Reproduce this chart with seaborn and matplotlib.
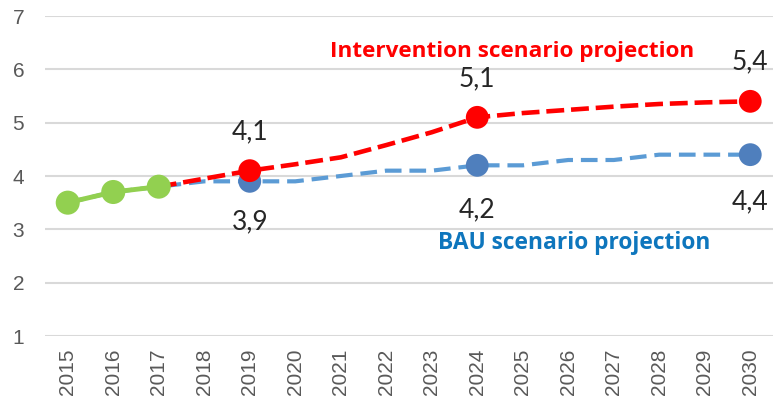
import numpy as np
import pandas as pd
import matplotlib
matplotlib.use("Agg")
import matplotlib.pyplot as plt
import seaborn as sns

# Chart values
years = list(range(2015, 2031))
bau = [3.5, 3.7, 3.8, 3.9, 3.9, 3.9, 4.0, 4.1, 4.1, 4.2, 4.2, 4.3, 4.3, 4.4, 4.4, 4.4]
intervention_years = list(range(2017, 2031))
intervention = [3.8, 3.95, 4.1, 4.22, 4.35, 4.58, 4.82, 5.1, 5.18, 5.24, 5.3, 5.35, 5.38, 5.4]
hist_years = [2015, 2016, 2017]
hist = [3.5, 3.7, 3.8]
marked_years = [2019, 2024, 2030]
label_bau = ["3,9", "4,2", "4,4"]
label_int = ["4,1", "5,1", "5,4"]

df_bau = pd.DataFrame({"year": years, "value": bau})
df_int = pd.DataFrame({"year": intervention_years, "value": intervention})
df_hist = pd.DataFrame({"year": hist_years, "value": hist})
mk_bau = df_bau[df_bau["year"].isin(marked_years)]
mk_int = df_int[df_int["year"].isin(marked_years)]

sns.set_style("white")
plt.rcParams["font.family"] = ["Liberation Sans", "DejaVu Sans"]

fig = plt.figure(figsize=(7.73, 4.08), dpi=100)
ax = fig.add_axes([45 / 773, (408 - 336) / 408, (773 - 45) / 773, 320 / 408])

blue_line = "#5B9BD5"
blue_mark = "#4F7FBD"
red = "#FF0000"
green = "#92D050"

# BAU projection
sns.lineplot(data=df_bau, x="year", y="value", ax=ax, color=blue_line, lw=3.0, zorder=2)
ax.lines[-1].set_dashes((4.0, 1.9))
sns.scatterplot(data=mk_bau, x="year", y="value", ax=ax, color=blue_mark, s=270,
                edgecolor="none", zorder=3)

# intervention projection
sns.lineplot(data=df_int, x="year", y="value", ax=ax, color=red, lw=3.3, zorder=4)
ax.lines[-1].set_dashes((3.9, 1.5))
sns.scatterplot(data=mk_int, x="year", y="value", ax=ax, color=red, s=270,
                edgecolor="none", zorder=5)

# historical
sns.lineplot(data=df_hist, x="year", y="value", ax=ax, color=green, lw=3.5, zorder=6)
sns.scatterplot(data=df_hist, x="year", y="value", ax=ax, color=green, s=300,
                edgecolor="none", zorder=7)

# data labels
int_offsets = [39, 39, 40]
bau_offsets = [-40, -44, -47]
for (_, r), lab, off in zip(mk_int.iterrows(), label_int, int_offsets):
    ax.annotate(lab, (r["year"], r["value"]), xytext=(0, off), textcoords="offset pixels",
                ha="center", va="center", fontsize=19, color="#262626", family="Lato")
for (_, r), lab, off in zip(mk_bau.iterrows(), label_bau, bau_offsets):
    ax.annotate(lab, (r["year"], r["value"]), xytext=(0, off), textcoords="offset pixels",
                ha="center", va="center", fontsize=19, color="#262626", family="Lato")

ax.text(2020.76, 6.33, "Intervention scenario projection", color=red, fontsize=16.2,
        fontweight="bold", family="Open Sans", ha="left", va="center")
ax.text(2023.13, 2.74, "BAU scenario projection", color="#0E76BD", fontsize=16.4,
        fontweight="bold", family="Open Sans", ha="left", va="center")

ax.set_xlim(2014.5, 2030.5)
ax.set_ylim(1, 7)
ax.set_xticks(years)
ax.set_xticklabels([str(y) for y in years], rotation=90)
ax.set_yticks(range(1, 8))
ax.set_xlabel("")
ax.set_ylabel("")
ax.grid(axis="y", color="#D9D9D9", lw=1.5)
ax.set_axisbelow(True)
for s in ax.spines.values():
    s.set_visible(False)
ax.tick_params(axis="both", length=0, labelsize=15, labelcolor="#595959")
ax.tick_params(axis="y", pad=15)
ax.tick_params(axis="x", pad=9)
if ax.get_legend():
    ax.get_legend().remove()

fig.savefig("out.png", dpi=100)
